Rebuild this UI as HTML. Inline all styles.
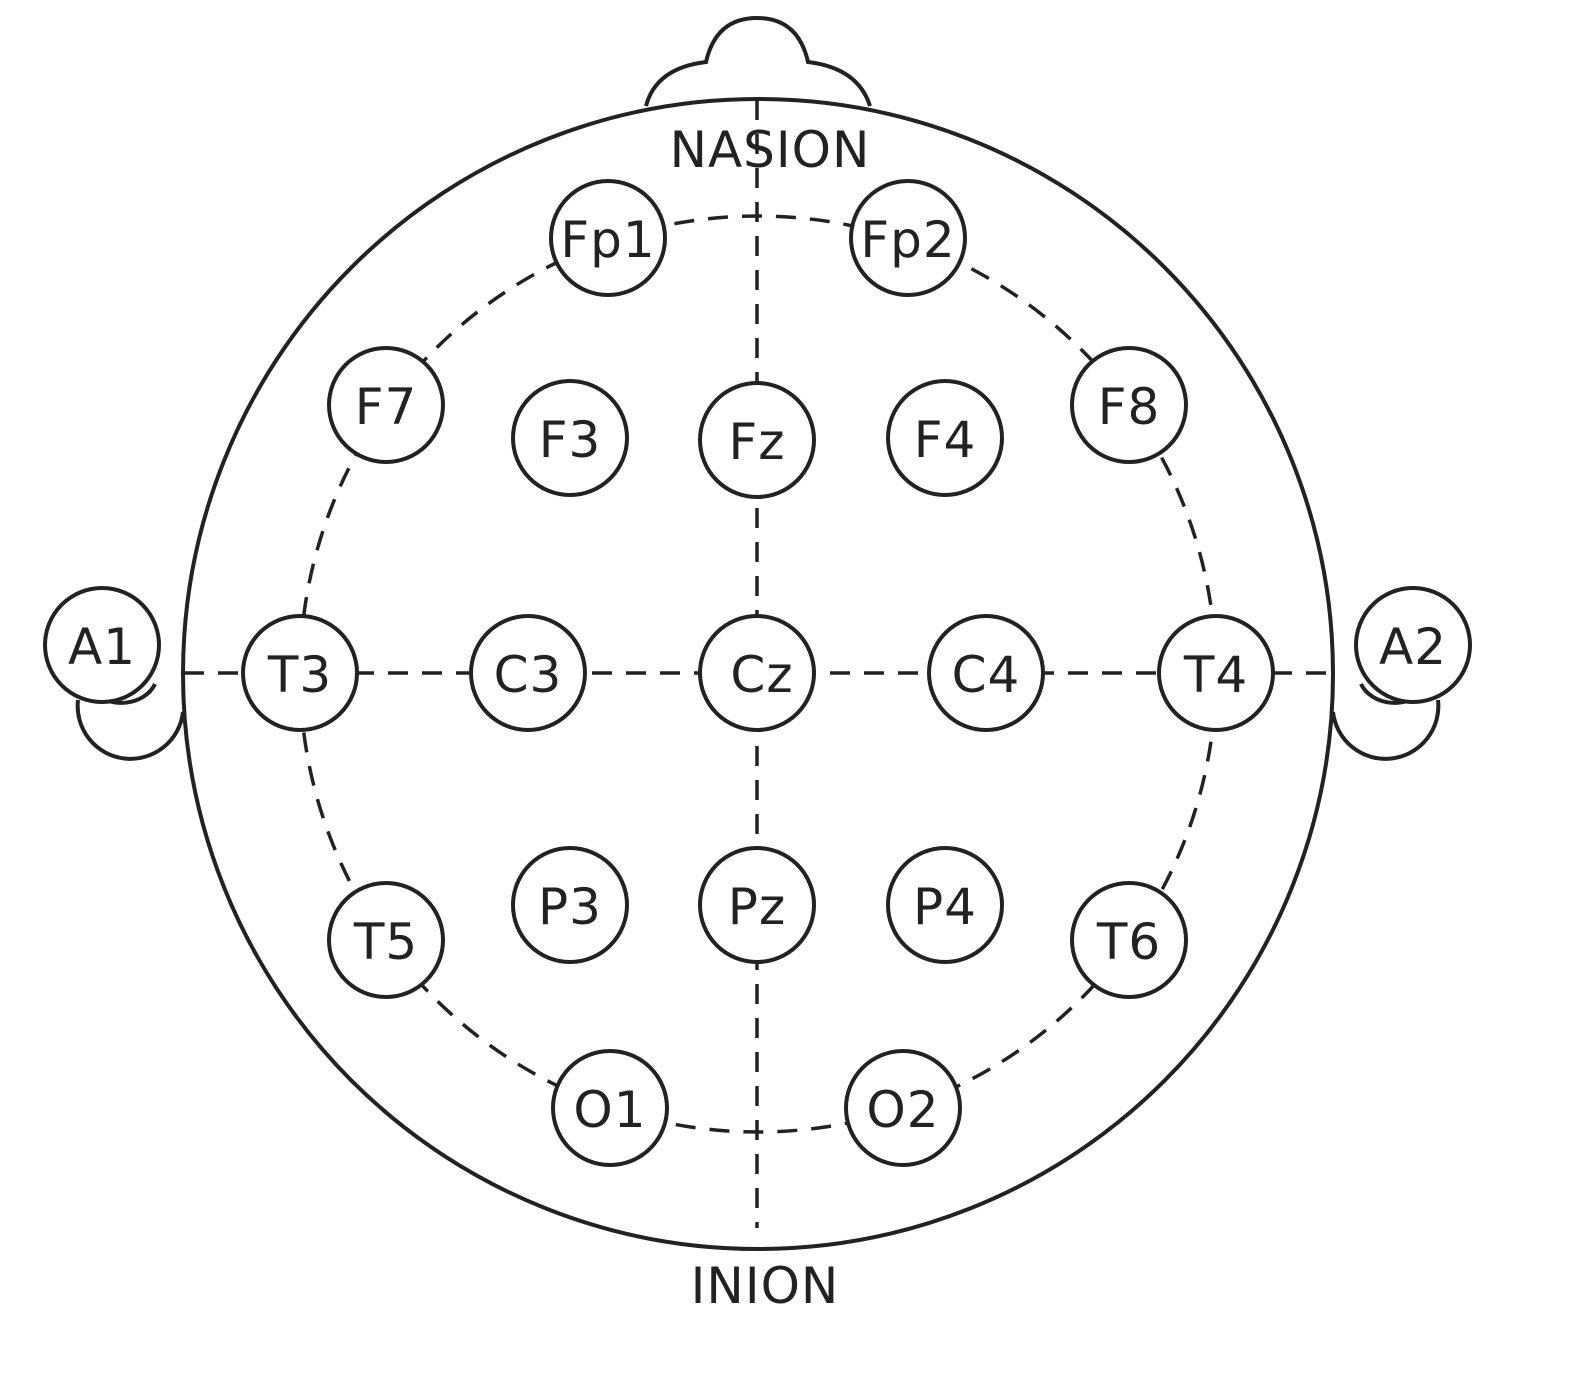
<!DOCTYPE html>
<html><head><style>body{margin:0;background:#fff}svg{display:block}</style></head><body>
<svg width="1575" height="1383" viewBox="0 0 1575 1383" xmlns="http://www.w3.org/2000/svg" font-family="DejaVu Sans, Liberation Sans, sans-serif">
<g fill="none" stroke="#222" stroke-width="4">
<path d="M646,106 Q656,68 706,62 Q716,18 757,18 Q798,18 808,62 Q858,68 870,106"/>
<path d="M78,700 A52,52 0 0 0 183,712"/>
<path d="M92,690 A36,30 0 0 0 155,684"/>
<path d="M1438,700 A52,52 0 0 1 1333,712"/>
<path d="M1424,690 A36,30 0 0 1 1361,684"/>
<g stroke-dasharray="20,14" stroke-width="3.5">
<circle cx="758" cy="674" r="458"/>
<line x1="757" y1="100" x2="757" y2="1228"/>
<line x1="184" y1="673" x2="1333" y2="673"/>
</g>
<circle cx="758" cy="674" r="575" stroke-width="4"/>
</g>
<g fill="#fff" stroke="#222" stroke-width="4">
<circle cx="608" cy="238" r="57"/><circle cx="908" cy="238" r="57"/>
<circle cx="386" cy="405" r="57"/><circle cx="570" cy="438" r="57"/><circle cx="757" cy="440" r="57"/><circle cx="945" cy="438" r="57"/><circle cx="1129" cy="405" r="57"/>
<circle cx="300" cy="673" r="57"/><circle cx="528" cy="673" r="57"/><circle cx="757" cy="673" r="57"/><circle cx="986" cy="673" r="57"/><circle cx="1216" cy="673" r="57"/>
<circle cx="386" cy="940" r="57"/><circle cx="570" cy="905" r="57"/><circle cx="757" cy="905" r="57"/><circle cx="945" cy="905" r="57"/><circle cx="1129" cy="940" r="57"/>
<circle cx="610" cy="1108" r="57"/><circle cx="903" cy="1108" r="57"/>
<circle cx="102" cy="645" r="57"/><circle cx="1413" cy="645" r="57"/>
</g>
<g fill="#222" font-size="50" text-anchor="middle" dominant-baseline="central" letter-spacing="1">
<text x="608" y="240">Fp1</text><text x="908" y="240">Fp2</text>
<text x="386" y="407">F7</text><text x="570" y="440">F3</text><text x="757" y="442">Fz</text><text x="945" y="440">F4</text><text x="1129" y="407">F8</text>
<text x="300" y="675">T3</text><text x="528" y="675">C3</text><text x="762" y="675">Cz</text><text x="986" y="675">C4</text><text x="1216" y="675">T4</text>
<text x="386" y="942">T5</text><text x="570" y="907">P3</text><text x="757" y="907">Pz</text><text x="945" y="907">P4</text><text x="1129" y="942">T6</text>
<text x="610" y="1110">O1</text><text x="903" y="1110">O2</text>
<text x="102" y="647">A1</text><text x="1413" y="647">A2</text>
<text x="770" y="150">NASION</text>
<text x="765" y="1286">INION</text>
</g>
</svg>
</body></html>
